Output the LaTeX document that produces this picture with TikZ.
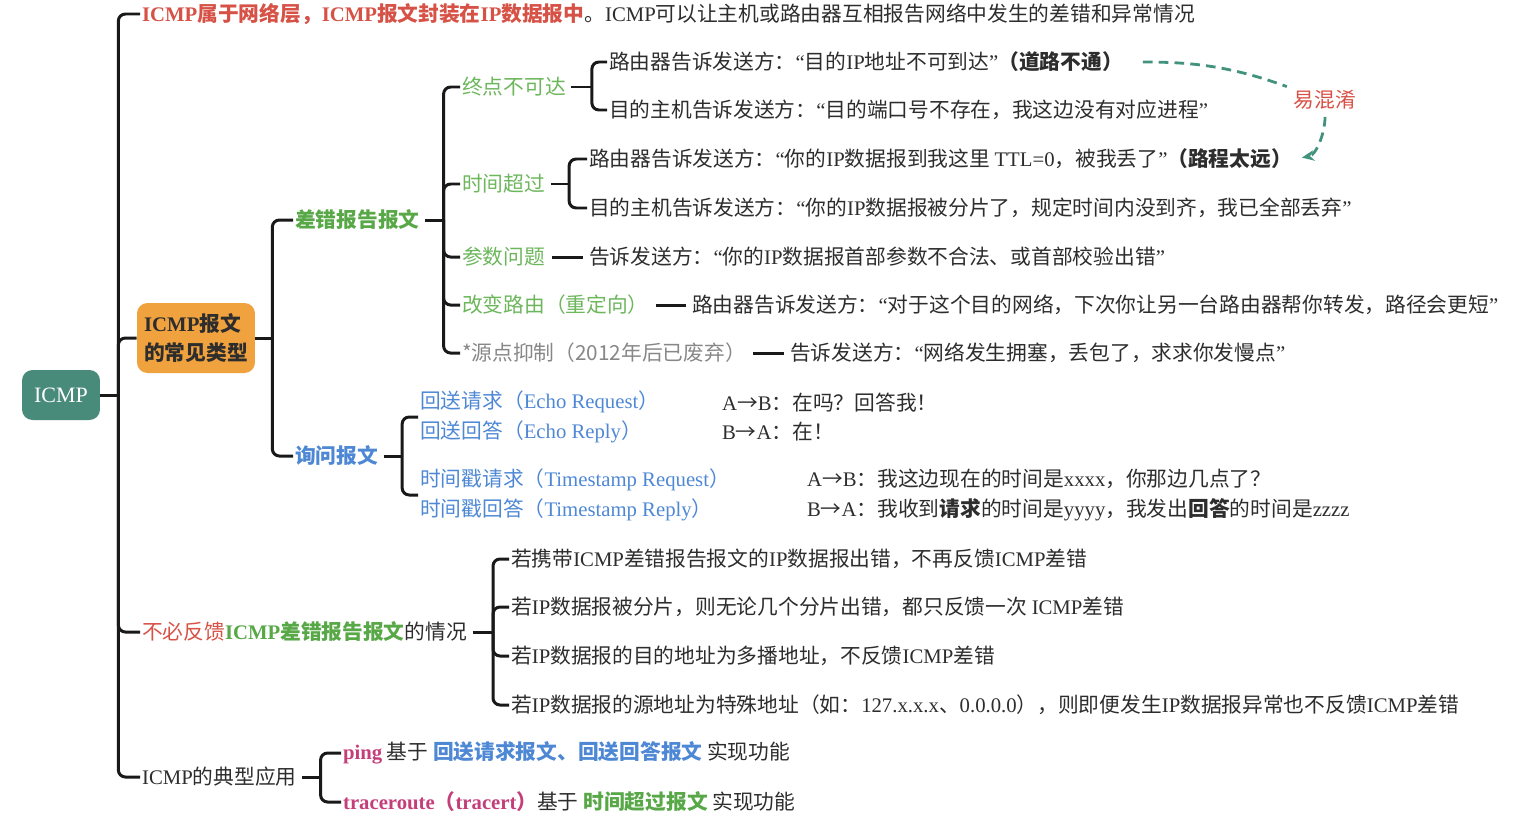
\documentclass[tikz,border=0pt]{standalone}
\usepackage{fontspec}
\usetikzlibrary{arrows.meta,positioning}
\setmainfont{Noto Sans CJK SC}
\newfontfamily\hanfont{Noto Sans CJK SC}
\newfontfamily\latfont{Liberation Serif}

% Han runs in the CJK font, Latin runs in the serif
\newXeTeXintercharclass\hancls
\newcount\hancnt
\newcommand\sethan[2]{\hancnt=#1\relax
  \loop\XeTeXcharclass\hancnt=\hancls
  \ifnum\hancnt<#2\advance\hancnt by 1\repeat}
\sethan{"4E00}{"9FFF}
\sethan{"3000}{"303F}
\sethan{"FF00}{"FFEF}
\sethan{"2192}{"2192}
\XeTeXinterchartoks 0 \hancls = {\hanfont}
\XeTeXinterchartoks 4095 \hancls = {\hanfont}
\XeTeXinterchartoks \hancls 0 = {\latfont}
\XeTeXinterchartoks 4095 0 = {\latfont}
\XeTeXinterchartokenstate=1

\definecolor{ink}{RGB}{45,45,45}
\definecolor{bar}{RGB}{25,25,25}
\definecolor{rootteal}{RGB}{72,139,123}
\definecolor{boxorange}{RGB}{240,162,62}
\definecolor{hotred}{RGB}{214,82,70}
\definecolor{leafgreen}{RGB}{88,168,72}
\definecolor{softgreen}{RGB}{108,182,92}
\definecolor{qblue}{RGB}{78,136,212}
\definecolor{appink}{RGB}{196,62,122}
\definecolor{mutegray}{RGB}{135,135,135}
\definecolor{dashteal}{RGB}{66,146,126}

\AtBeginDocument{\fontsize{11.8}{17}\selectfont}

\begin{document}
\begin{tikzpicture}[x=0.02cm, y=-0.02cm,
    txt/.style={anchor=west, inner sep=1pt, text=ink},
    pair/.style={txt, align=left},
    branch/.style={line width=1.7pt, rounded corners=4pt, draw=bar},
    stub/.style={branch, shorten <=2pt},
    joiner/.style={line width=1.7pt, draw=bar, shorten <=3pt, shorten >=2pt},
    rootbox/.style={fill=rootteal, rounded corners=6pt, text=white, minimum width=1.56cm, minimum height=1cm, font=\fontsize{12.5}{15}\selectfont},
    typebox/.style={fill=boxorange, rounded corners=6pt, text=ink, align=left, minimum width=2.36cm, minimum height=1.4cm, font=\fontsize{11.8}{16.5}\selectfont\bfseries},
    mixup/.style={draw=dashteal, line width=1.6pt, dash pattern=on 5.5pt off 3.5pt}
]
\useasboundingbox (0,0) rectangle (1524,829);

% root and main trunk
\node[rootbox] (icmp) at (61,395) {ICMP};
\node[txt] (intro) at (140,14) {{\bfseries\color{hotred}ICMP属于网络层，ICMP报文封装在IP数据报中}。ICMP可以让主机或路由器互相报告网络中发生的差错和异常情况};
\node[typebox] (types) at (196,338) {ICMP报文\\的常见类型};
\node[txt] (nofb) at (140,632) {{\color{hotred}不必反馈}{\bfseries\color{leafgreen}ICMP差错报告报文}的情况};
\node[txt] (usage) at (140,777) {ICMP的典型应用};
\draw[branch] (icmp.east) -- ++(18,0) coordinate (trunk);
\foreach \kid in {intro,types,nofb,usage}
  \draw[branch] (trunk) |- (\kid.west);

% common message types
\node[txt, text=leafgreen, font=\bfseries] (errmsg) at (293,220) {差错报告报文};
\node[txt, text=qblue, font=\bfseries] (query) at (293,456) {询问报文};
\draw[branch] (types.east) -- ++(17,0) coordinate (typebar);
\foreach \kid in {errmsg,query}
  \draw[branch] (typebar) |- (\kid.west);

% error reporting messages
\node[txt, text=softgreen] (unreach) at (460,87) {终点不可达};
\node[txt, text=softgreen] (timeout) at (460,184) {时间超过};
\node[txt, text=softgreen] (param) at (460,257) {参数问题};
\node[txt, text=softgreen] (redirect) at (460,305) {改变路由（重定向）};
\node[txt, text=mutegray] (quench) at (460,353) {\XeTeXinterchartokenstate=0 *源点抑制（2012年后已废弃）};
\draw[stub] (errmsg.east) -- ++(22,0) coordinate (errbar);
\foreach \kid in {unreach,timeout,param,redirect,quench}
  \draw[branch] (errbar) |- (\kid.west);

\node[txt] (unreachA) at (607,62) {路由器告诉发送方：“目的IP地址不可到达”{\bfseries（道路不通）}};
\node[txt] (unreachB) at (607,110) {目的主机告诉发送方：“目的端口号不存在，我这边没有对应进程”};
\node[txt] (timeoutA) at (587,159) {路由器告诉发送方：“你的IP数据报到我这里 TTL=0，被我丢了”{\bfseries（路程太远）}};
\node[txt] (timeoutB) at (587,208) {目的主机告诉发送方：“你的IP数据报被分片了，规定时间内没到齐，我已全部丢弃”};
\node[txt] (paramtxt) at (587,257) {告诉发送方：“你的IP数据报首部参数不合法、或首部校验出错”};
\node[txt] (redirtxt) at (690,305) {路由器告诉发送方：“对于这个目的网络，下次你让另一台路由器帮你转发，路径会更短”};
\node[txt] (quenchtxt) at (788,353) {告诉发送方：“网络发生拥塞，丢包了，求求你发慢点”};
\draw[stub] (unreach.east) -- ++(24,0) coordinate (unreachbar);
\foreach \kid in {unreachA,unreachB}
  \draw[branch] (unreachbar) |- (\kid.west);
\draw[stub] (timeout.east) -- ++(22,0) coordinate (timebar);
\foreach \kid in {timeoutA,timeoutB}
  \draw[branch] (timebar) |- (\kid.west);
\draw[joiner] (param) -- (paramtxt);
\draw[joiner] (redirect) -- (redirtxt);
\draw[joiner] (quench) -- (quenchtxt);

% easily confused pair
\node[txt, anchor=center, text=hotred] (confuse) at (1325,100) {易混淆};
\draw[mixup, shorten <=0.36cm, shorten >=3pt] (unreachA.east) to[out=0, in=160] (confuse.north west);
\draw[mixup, -{Stealth[length=7pt, width=6pt]}, shorten <=3pt, shorten >=0.16cm] (confuse.south) to[out=-90, in=10] (timeoutA.east);

% query messages
\node[pair, text=qblue] (echo) at (418,417) {回送请求（Echo Request）\\回送回答（Echo Reply）};
\node[pair] (echoans) at (720,417) {A→B：在吗？回答我！\\B→A：在！};
\node[pair, text=qblue] (stamp) at (418,495) {时间戳请求（Timestamp Request）\\时间戳回答（Timestamp Reply）};
\node[pair] (stampans) at (805,495) {A→B：我这边现在的时间是xxxx，你那边几点了？\\B→A：我收到{\bfseries 请求}的时间是yyyy，我发出{\bfseries 回答}的时间是zzzz};
\draw[stub] (query.east) -- ++(22,0) coordinate (querybar);
\foreach \kid in {echo,stamp}
  \draw[branch] (querybar) |- (\kid.west);

% no error report
\node[txt] (nofbA) at (509,559) {若携带ICMP差错报告报文的IP数据报出错，不再反馈ICMP差错};
\node[txt] (nofbB) at (509,607) {若IP数据报被分片，则无论几个分片出错，都只反馈一次 ICMP差错};
\node[txt] (nofbC) at (509,656) {若IP数据报的目的地址为多播地址，不反馈ICMP差错};
\node[txt] (nofbD) at (509,705) {若IP数据报的源地址为特殊地址（如：127.x.x.x、0.0.0.0），则即便发生IP数据报异常也不反馈ICMP差错};
\draw[stub] (nofb.east) -- ++(24,0) coordinate (nofbbar);
\foreach \kid in {nofbA,nofbB,nofbC,nofbD}
  \draw[branch] (nofbbar) |- (\kid.west);

% typical uses
\node[txt] (ping) at (341,753) {{\bfseries\color{appink}ping} 基于 {\bfseries\color{qblue}回送请求报文、回送回答报文} 实现功能};
\node[txt] (trace) at (341,802) {{\bfseries\color{appink}traceroute（tracert）}基于 {\bfseries\color{leafgreen}时间超过报文} 实现功能};
\draw[stub] (usage.east) -- ++(22,0) coordinate (usebar);
\foreach \kid in {ping,trace}
  \draw[branch] (usebar) |- (\kid.west);
\end{tikzpicture}
\end{document}
